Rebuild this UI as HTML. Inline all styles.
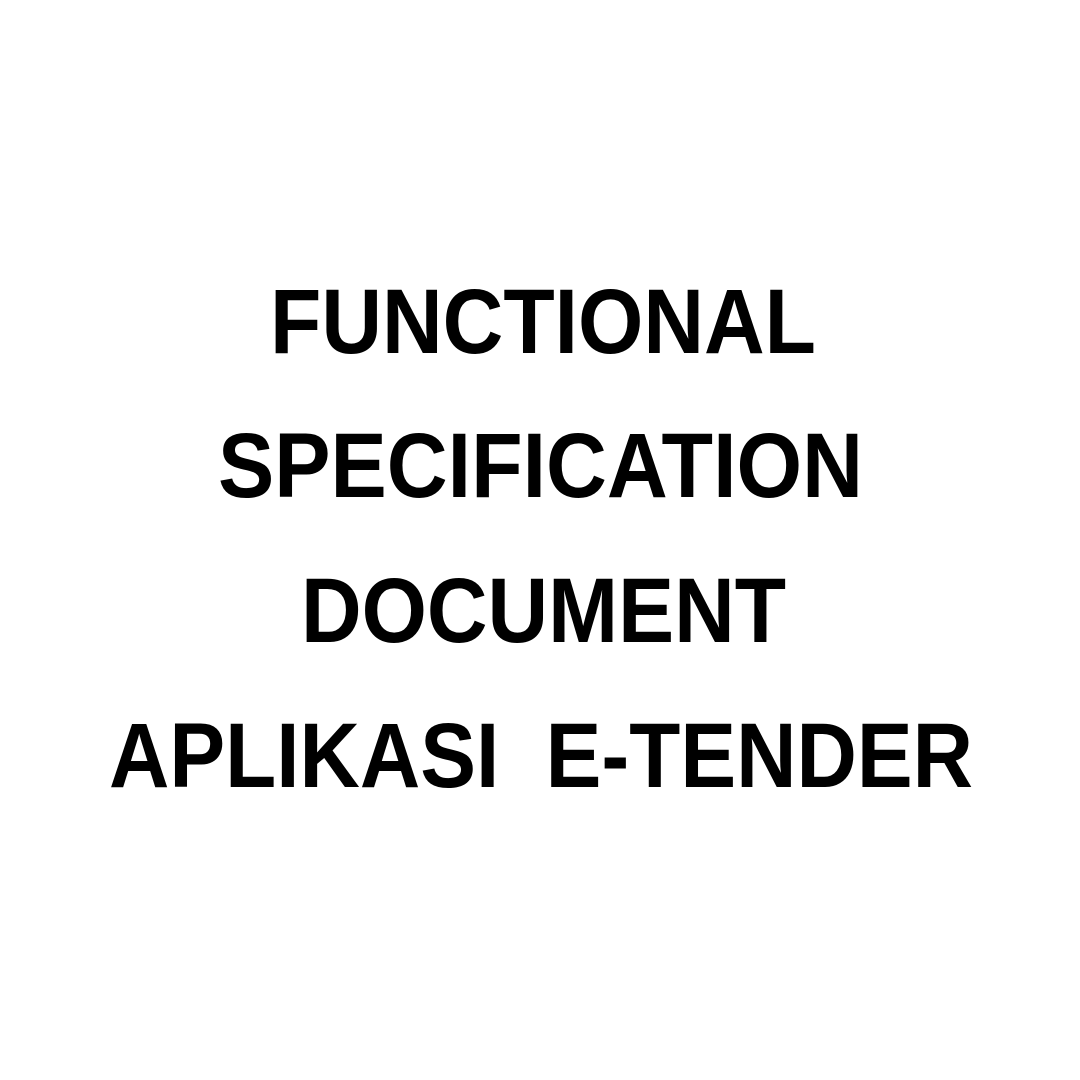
<!DOCTYPE html>
<html><head><meta charset="utf-8"><style>
html,body{margin:0;padding:0;background:#fff;width:1080px;height:1080px;overflow:hidden}
text{font-family:"Liberation Sans",sans-serif;font-weight:bold;fill:#000;font-size:92px}
</style></head><body>
<svg width="1080" height="1080" viewBox="0 0 1080 1080" xmlns="http://www.w3.org/2000/svg">
<rect width="1080" height="1080" fill="#fff"/>
<text x="270" y="353" textLength="546" lengthAdjust="spacingAndGlyphs">FUNCTIONAL</text>
<text x="218" y="497" textLength="645" lengthAdjust="spacingAndGlyphs">SPECIFICATION</text>
<text x="301" y="642" textLength="485" lengthAdjust="spacingAndGlyphs">DOCUMENT</text>
<text x="109" y="787" textLength="864" lengthAdjust="spacingAndGlyphs" xml:space="preserve">APLIKASI  E-TENDER</text>
</svg>
</body></html>
